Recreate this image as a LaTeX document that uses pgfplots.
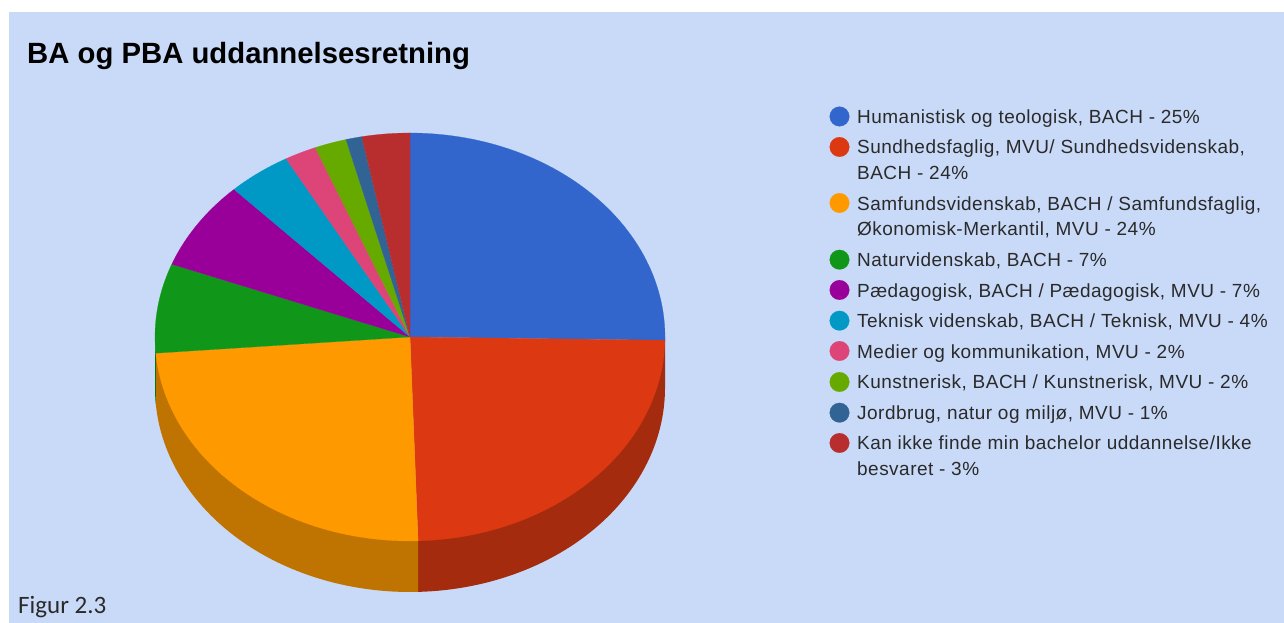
\documentclass[border=0pt]{standalone}
\usepackage{fontspec}
\setmainfont{Liberation Sans}
\newfontfamily\legfont[LetterSpace=2.5]{Liberation Sans}
\newfontfamily\figfont{Carlito}
\usepackage{pgfplots}
\pgfplotsset{compat=1.18}

\definecolor{panel}{HTML}{C9DAF8}
\definecolor{legendtext}{HTML}{2A2A2A}
\definecolor{c1}{HTML}{3366CC}
\definecolor{c2}{HTML}{DC3912}
\definecolor{c3}{HTML}{FF9900}
\definecolor{c4}{HTML}{109618}
\definecolor{c5}{HTML}{990099}
\definecolor{c6}{HTML}{0099C6}
\definecolor{c7}{HTML}{DD4477}
\definecolor{c8}{HTML}{66AA00}
\definecolor{c9}{HTML}{316395}
\definecolor{c10}{HTML}{B82E2E}

% Pie geometry in axis units: centre, radii, rim depth; shares sum to 99
\def\cx{410}\def\cy{286}\def\rx{255}\def\ry{204}\def\depth{51}\def\total{99}
\def\shares{25/c1,24/c2,24/c3,7/c4,7/c5,4/c6,2/c7,2/c8,1/c9,3/c10}

\newcommand{\legendentry}[2]{\node[anchor=base west,inner sep=0pt,text=legendtext,
  font=\legfont\fontsize{19}{22}\selectfont] at (857,#1) {#2};}
\newcommand{\swatch}[2]{\addplot[only marks,mark=*,mark size=9.8pt,
  mark options={fill=#1,draw=#1,line width=0.2pt}] coordinates {(839.5,#2)};}

\begin{document}
\begin{tikzpicture}
\begin{axis}[
  scale only axis, width=1284pt, height=623pt,
  xmin=0, xmax=1284, ymin=0, ymax=623,
  hide axis, clip=false,
]
% page and panel
\addplot[fill=white,draw=none] coordinates {(0,0)(1284,0)(1284,623)(0,623)} --cycle;
\addplot[fill=panel,draw=none] coordinates {(9,0)(1284,0)(1284,611)(9,611)} --cycle;

% front rim: each slice's lower arc closed through its upper end points
\gdef\running{0}
\foreach \share/\col in \shares {
  \pgfmathsetmacro\tA{max(\running/\total*360,90)}
  \pgfmathsetmacro\tB{min((\running+\share)/\total*360,270)}
  \pgfmathparse{\tB>\tA ? 1 : 0}
  \ifnum\pgfmathresult=1
    \pgfmathsetmacro\xA{\cx+\rx*sin(\tA)}
    \pgfmathsetmacro\yA{\cy+\ry*cos(\tA)}
    \pgfmathsetmacro\xB{\cx+\rx*sin(\tB)}
    \pgfmathsetmacro\yB{\cy+\ry*cos(\tB)}
    \edef\temp{\noexpand\addplot[fill=\col!75!black,draw=none,
        domain=\tA:\tB,samples=60,variable=\noexpand\t]
      ({\cx+\rx*sin(\noexpand\t)},{\cy-\depth+\ry*cos(\noexpand\t)})
      -- (axis cs:\xB,\yB) -- (axis cs:\xA,\yA) -- cycle;}
    \temp
  \fi
  \pgfmathsetmacro\next{\running+\share}
  \xdef\running{\next}
}

% top face
\gdef\running{0}
\foreach \share/\col in \shares {
  \pgfmathsetmacro\tA{\running/\total*360}
  \pgfmathsetmacro\tB{(\running+\share)/\total*360}
  \edef\temp{\noexpand\addplot[fill=\col,draw=\col,line width=0.2pt,
      domain=\tA:\tB,samples=60,variable=\noexpand\t]
    ({\cx+\rx*sin(\noexpand\t)},{\cy+\ry*cos(\noexpand\t)})
    -- (axis cs:\cx,\cy) -- cycle;}
  \temp
  \pgfmathsetmacro\next{\running+\share}
  \xdef\running{\next}
}

% legend swatches
\swatch{c1}{506.5}
\swatch{c2}{476}
\swatch{c3}{420}
\swatch{c4}{363.3}
\swatch{c5}{333}
\swatch{c6}{302.3}
\swatch{c7}{272}
\swatch{c8}{241}
\swatch{c9}{210.3}
\swatch{c10}{180}

% legend text
\legendentry{499.7}{Humanistisk og teologisk, BACH - 25\%}
\legendentry{469}{Sundhedsfaglig, MVU/ Sundhedsvidenskab,}
\legendentry{443.7}{BACH - 24\%}
\legendentry{412.3}{Samfundsvidenskab, BACH / Samfundsfaglig,}
\legendentry{387}{Økonomisk-Merkantil, MVU - 24\%}
\legendentry{356.3}{Naturvidenskab, BACH - 7\%}
\legendentry{325.5}{Pædagogisk, BACH / Pædagogisk, MVU - 7\%}
\legendentry{295.7}{Teknisk videnskab, BACH / Teknisk, MVU - 4\%}
\legendentry{264.7}{Medier og kommunikation, MVU - 2\%}
\legendentry{234.3}{Kunstnerisk, BACH / Kunstnerisk, MVU - 2\%}
\legendentry{203.7}{Jordbrug, natur og miljø, MVU - 1\%}
\legendentry{173}{Kan ikke finde min bachelor uddannelse/Ikke}
\legendentry{147.7}{besvaret - 3\%}

% heading and figure caption
\node[anchor=base west,inner sep=0pt,font=\bfseries\fontsize{29.3}{32}\selectfont] at (27,559.7) {BA og PBA uddannelsesretning};
\node[anchor=base west,inner sep=0pt,text=legendtext,font=\figfont\fontsize{25}{28}\selectfont] at (18,9.5) {Figur 2.3};
\end{axis}
\end{tikzpicture}
\end{document}
